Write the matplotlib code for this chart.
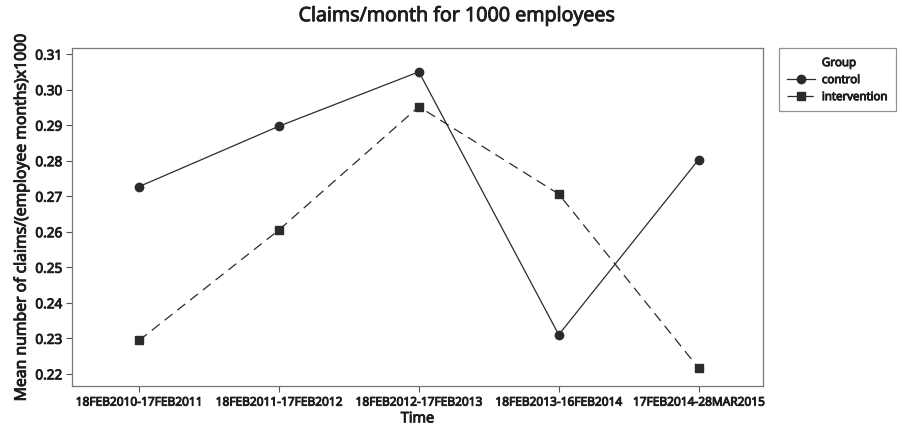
import matplotlib
matplotlib.use("Agg")
import matplotlib.pyplot as plt
import matplotlib.patheffects as pe
from matplotlib.lines import Line2D

# data
periods = ["18FEB2010-17FEB2011", "18FEB2011-17FEB2012", "18FEB2012-17FEB2013",
           "18FEB2013-16FEB2014", "17FEB2014-28MAR2015"]
control = [0.2727, 0.2897, 0.3050, 0.2310, 0.2803]
intervention = [0.2294, 0.2605, 0.2952, 0.2706, 0.2216]
yticks = [0.22, 0.23, 0.24, 0.25, 0.26, 0.27, 0.28, 0.29, 0.30, 0.31]

plt.rcParams['font.family'] = ['Open Sans', 'DejaVu Sans']
ink = '#2b2b2b'
txt = '#1e1e1e'
# fake a semibold weight: regular glyphs with a thin outline
semi = [pe.withStroke(linewidth=0.7, foreground=txt)]

fig = plt.figure(figsize=(9.04, 4.25), dpi=100)
ax = fig.add_axes([0.0796, 0.092, 0.7644, 0.795])

x = list(range(len(periods)))
ax.plot(x, control, color=ink, linewidth=0.9, marker='o', markersize=6,
        label='control')
ax.plot(x, intervention, color=ink, linewidth=0.9, linestyle=(0, (8, 5)),
        marker='s', markersize=6, label='intervention')

ax.set_xlim(-0.48, 4.46)
ax.set_ylim(0.2166, 0.3117)
ax.set_xticks(x)
ax.set_xticklabels(periods, fontsize=8.6, color=txt, path_effects=semi)
ax.set_yticks(yticks)
ax.set_yticklabels([f"{v:.2f}" for v in yticks], fontsize=9.8,
                   color=txt, path_effects=semi)
ax.tick_params(direction='out', length=4, width=0.8, color='#555', pad=3)
for s in ax.spines.values():
    s.set_color('#777')
    s.set_linewidth(0.9)

ax.set_xlabel('Time', fontsize=10.5, color=txt, labelpad=2, path_effects=semi)
ax.set_ylabel('Mean number of claims/(employee months)x1000', fontsize=11.4,
              color=txt, labelpad=4, path_effects=semi)
fig.text(0.505, 0.962, 'Claims/month for 1000 employees', fontsize=14.2,
         color=txt, ha='center', va='center', path_effects=semi)

# "Group" heading as a blank-handle row so it lines up with the labels
h_ctrl, h_int = ax.get_lines()
blank = Line2D([], [], linestyle='none')
leg = fig.legend([blank, h_ctrl, h_int], ['Group', 'control', 'intervention'],
                 loc='upper left', bbox_to_anchor=(0.862, 0.887),
                 fontsize=8.3, frameon=True, fancybox=False,
                 handlelength=2.4, borderpad=0.7, labelspacing=0.35,
                 handletextpad=0.6, borderaxespad=0)
leg.get_frame().set_edgecolor('#777')
leg.get_frame().set_linewidth(0.9)
for t in leg.get_texts():
    t.set_color(txt)
    t.set_path_effects(semi)

fig.savefig('out.png', dpi=100)
